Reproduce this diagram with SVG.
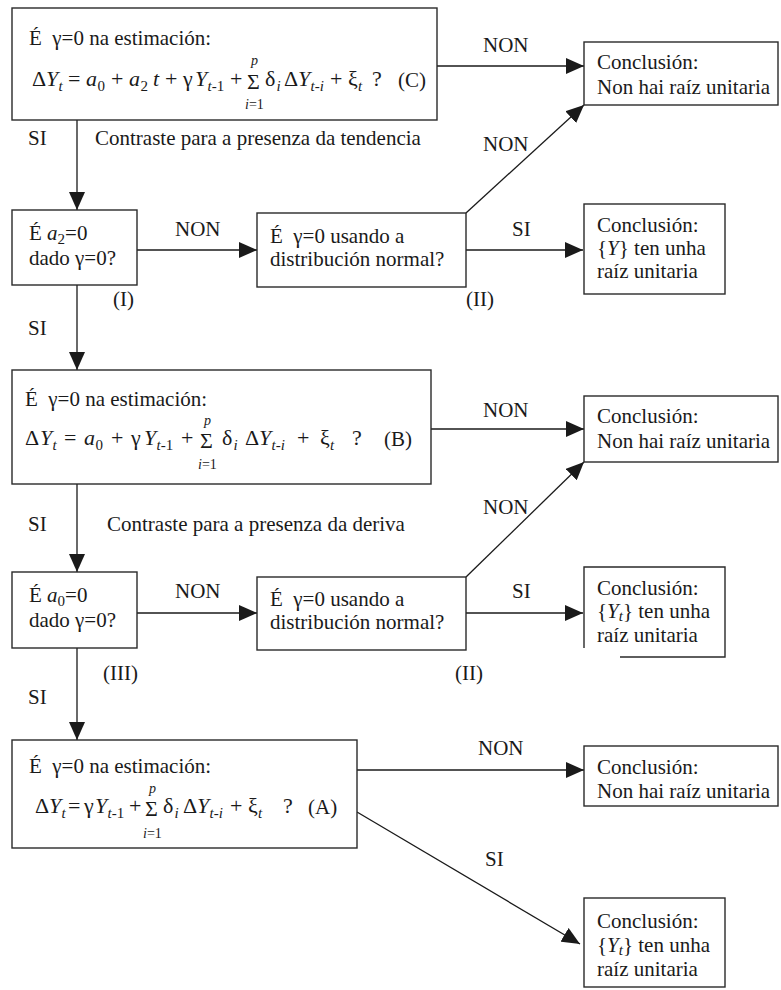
<svg xmlns="http://www.w3.org/2000/svg" width="781" height="990" viewBox="0 0 781 990">
<style>
.box{fill:#fff;stroke:#2a2a2a;stroke-width:1.4}
.t{font-family:"Liberation Serif","Times New Roman",serif;font-size:21px;fill:#1a1a1a}
.eq{font-size:22px}
.it{font-style:italic}
.sub{font-size:15px}
.sm{font-size:14px}
.sg{font-size:22px}
.edge{stroke:#1a1a1a;stroke-width:1.3;fill:none;marker-end:url(#ah)}
.ln{stroke:#2a2a2a;stroke-width:1.4;fill:none}
</style>
<defs>
<marker id="ah" markerUnits="userSpaceOnUse" markerWidth="18" markerHeight="16" refX="18" refY="8" orient="auto">
<path d="M0,0 L18,8 L0,16 z" fill="#1a1a1a"/>
</marker>
</defs>

<g id="connectors">
<line class="edge" x1="437" y1="66" x2="584" y2="66"/>
<line class="edge" x1="77" y1="120" x2="77" y2="210"/>
<line class="edge" x1="137" y1="250" x2="257" y2="250"/>
<line class="edge" x1="466" y1="213" x2="584" y2="105"/>
<line class="edge" x1="466" y1="250" x2="583" y2="250"/>
<line class="edge" x1="77" y1="285" x2="77" y2="370"/>
<line class="edge" x1="431" y1="429" x2="584" y2="429"/>
<line class="edge" x1="77" y1="484" x2="77" y2="572"/>
<line class="edge" x1="137" y1="613" x2="257" y2="613"/>
<line class="edge" x1="466" y1="577" x2="584" y2="462"/>
<line class="edge" x1="466" y1="613" x2="583" y2="613"/>
<line class="edge" x1="77" y1="648" x2="77" y2="740"/>
<line class="edge" x1="357" y1="770" x2="584" y2="770"/>
<line class="edge" x1="357" y1="812" x2="580" y2="944"/>
<text class="t" x="483" y="52">NON</text>
<text class="t" x="483" y="151">NON</text>
<text class="t" x="512" y="236">SI</text>
<text class="t" x="175" y="236">NON</text>
<text class="t" x="28" y="145">SI</text>
<text class="t" x="95" y="145">Contraste para a presenza da tendencia</text>
<text class="t" x="113" y="306">(I)</text>
<text class="t" x="466" y="306">(II)</text>
<text class="t" x="28" y="335">SI</text>
<text class="t" x="483" y="417">NON</text>
<text class="t" x="28" y="531">SI</text>
<text class="t" x="107" y="531">Contraste para a presenza da deriva</text>
<text class="t" x="175" y="598">NON</text>
<text class="t" x="483" y="514">NON</text>
<text class="t" x="512" y="598">SI</text>
<text class="t" x="103" y="680">(III)</text>
<text class="t" x="455" y="680">(II)</text>
<text class="t" x="28" y="704">SI</text>
<text class="t" x="478" y="755">NON</text>
<text class="t" x="485" y="866">SI</text>
</g>

<g id="boxC">
<rect class="box" x="12" y="8" width="425" height="112"/>
<text class="t" x="29" y="45">É&#160; γ=0 na estimación:</text>
<text class="t eq" y="86"><tspan x="32">Δ</tspan><tspan x="46" class="it">Y</tspan><tspan x="58.5" y="91" class="sub it">t</tspan><tspan x="68" y="86">=</tspan><tspan x="86" class="it">a</tspan><tspan x="97.5" y="91" class="sub">0</tspan><tspan x="111" y="86">+</tspan><tspan x="129" class="it">a</tspan><tspan x="140.5" y="91" class="sub">2</tspan><tspan x="153" y="86" class="it">t</tspan><tspan x="165">+</tspan><tspan x="183">γ</tspan><tspan x="195" class="it">Y</tspan><tspan x="207.5" y="91" class="sub it">t</tspan><tspan class="sub">-1</tspan><tspan x="230" y="86">+</tspan><tspan x="265">δ</tspan><tspan x="276.5" y="91" class="sub it">i</tspan><tspan x="284" y="86">Δ</tspan><tspan x="298" class="it">Y</tspan><tspan x="310.5" y="91" class="sub it">t</tspan><tspan class="sub">-</tspan><tspan class="sub it">i</tspan><tspan x="330" y="86">+</tspan><tspan x="348">ξ</tspan><tspan x="358" y="91" class="sub it">t</tspan><tspan x="372" y="86">?</tspan></text>
<text class="t sg" x="247" y="89">Σ</text>
<text class="t sm it" x="251" y="65">p</text>
<text class="t sm" x="245" y="109"><tspan class="it">i</tspan>=1</text>
<text class="t" x="398" y="87">(C)</text>
</g>

<g id="concl1">
<rect class="box" x="584" y="42" width="194" height="63"/>
<text class="t" x="597" y="69">Conclusión:</text>
<text class="t" x="597" y="94">Non hai raíz unitaria</text>
</g>

<g id="boxI">
<rect class="box" x="12" y="210" width="125" height="75"/>
<text class="t" x="29" y="240">É <tspan class="it">a</tspan><tspan class="sub" dy="4">2</tspan><tspan dy="-4">=0</tspan></text>
<text class="t" x="29" y="265">dado γ=0?</text>
</g>

<g id="boxII1">
<rect class="box" x="257" y="213" width="209" height="74"/>
<text class="t" x="270" y="243">É&#160; γ=0 usando a</text>
<text class="t" x="270" y="266">distribución normal?</text>
</g>

<g id="concl2">
<rect class="box" x="584" y="204" width="141" height="90"/>
<text class="t" x="597" y="232">Conclusión:</text>
<text class="t" x="597" y="255">{<tspan class="it">Y</tspan>} ten unha</text>
<text class="t" x="597" y="278">raíz unitaria</text>
</g>

<g id="boxB">
<rect class="box" x="12" y="370" width="419" height="114"/>
<text class="t" x="25" y="406">É&#160; γ=0 na estimación:</text>
<text class="t eq" y="445"><tspan x="25">Δ</tspan><tspan x="40" class="it">Y</tspan><tspan x="52.5" y="450" class="sub it">t</tspan><tspan x="64" y="445">=</tspan><tspan x="84" class="it">a</tspan><tspan x="95.5" y="450" class="sub">0</tspan><tspan x="111" y="445">+</tspan><tspan x="131">γ</tspan><tspan x="144" class="it">Y</tspan><tspan x="156.5" y="450" class="sub it">t</tspan><tspan class="sub">-1</tspan><tspan x="181" y="445">+</tspan><tspan x="222">δ</tspan><tspan x="233.5" y="450" class="sub it">i</tspan><tspan x="245" y="445">Δ</tspan><tspan x="259" class="it">Y</tspan><tspan x="271.5" y="450" class="sub it">t</tspan><tspan class="sub">-</tspan><tspan class="sub it">i</tspan><tspan x="297" y="445">+</tspan><tspan x="320">ξ</tspan><tspan x="330" y="450" class="sub it">t</tspan><tspan x="352" y="445">?</tspan></text>
<text class="t sg" x="200" y="448">Σ</text>
<text class="t sm it" x="204" y="425">p</text>
<text class="t sm" x="198" y="469"><tspan class="it">i</tspan>=1</text>
<text class="t" x="384" y="446">(B)</text>
</g>

<g id="concl3">
<rect class="box" x="584" y="396" width="194" height="66"/>
<text class="t" x="597" y="423">Conclusión:</text>
<text class="t" x="597" y="448">Non hai raíz unitaria</text>
</g>

<g id="boxIII">
<rect class="box" x="12" y="572" width="125" height="76"/>
<text class="t" x="29" y="602">É <tspan class="it">a</tspan><tspan class="sub" dy="4">0</tspan><tspan dy="-4">=0</tspan></text>
<text class="t" x="29" y="627">dado γ=0?</text>
</g>

<g id="boxII2">
<rect class="box" x="257" y="577" width="209" height="73"/>
<text class="t" x="270" y="606">É&#160; γ=0 usando a</text>
<text class="t" x="270" y="629">distribución normal?</text>
</g>

<g id="concl4">
<path class="ln" d="M584,648 V567 H725 V657 H620"/>
<text class="t" x="597" y="595">Conclusión:</text>
<text class="t" x="597" y="618">{<tspan class="it">Y</tspan><tspan class="sub it" dy="3">t</tspan><tspan dy="-3">} ten unha</tspan></text>
<text class="t" x="597" y="642">raíz unitaria</text>
</g>

<g id="boxA">
<rect class="box" x="12" y="740" width="345" height="108"/>
<text class="t" x="29" y="773">É&#160; γ=0 na estimación:</text>
<text class="t eq" y="813"><tspan x="35">Δ</tspan><tspan x="49" class="it">Y</tspan><tspan x="61.5" y="818" class="sub it">t</tspan><tspan x="68" y="813">=</tspan><tspan x="84">γ</tspan><tspan x="95" class="it">Y</tspan><tspan x="107.5" y="818" class="sub it">t</tspan><tspan class="sub">-1</tspan><tspan x="129" y="813">+</tspan><tspan x="163">δ</tspan><tspan x="174.5" y="818" class="sub it">i</tspan><tspan x="183" y="813">Δ</tspan><tspan x="197" class="it">Y</tspan><tspan x="209.5" y="818" class="sub it">t</tspan><tspan class="sub">-</tspan><tspan class="sub it">i</tspan><tspan x="230" y="813">+</tspan><tspan x="248">ξ</tspan><tspan x="258" y="818" class="sub it">t</tspan><tspan x="283" y="813">?</tspan></text>
<text class="t sg" x="145" y="816">Σ</text>
<text class="t sm it" x="149" y="793">p</text>
<text class="t sm" x="143" y="838"><tspan class="it">i</tspan>=1</text>
<text class="t" x="308" y="814">(A)</text>
</g>

<g id="concl5">
<rect class="box" x="584" y="746" width="194" height="60"/>
<text class="t" x="597" y="774">Conclusión:</text>
<text class="t" x="597" y="798">Non hai raíz unitaria</text>
</g>

<g id="concl6">
<rect class="box" x="584" y="898" width="141" height="89"/>
<text class="t" x="597" y="928">Conclusión:</text>
<text class="t" x="597" y="952">{<tspan class="it">Y</tspan><tspan class="sub it" dy="3">t</tspan><tspan dy="-3">} ten unha</tspan></text>
<text class="t" x="597" y="976">raíz unitaria</text>
</g>
</svg>
